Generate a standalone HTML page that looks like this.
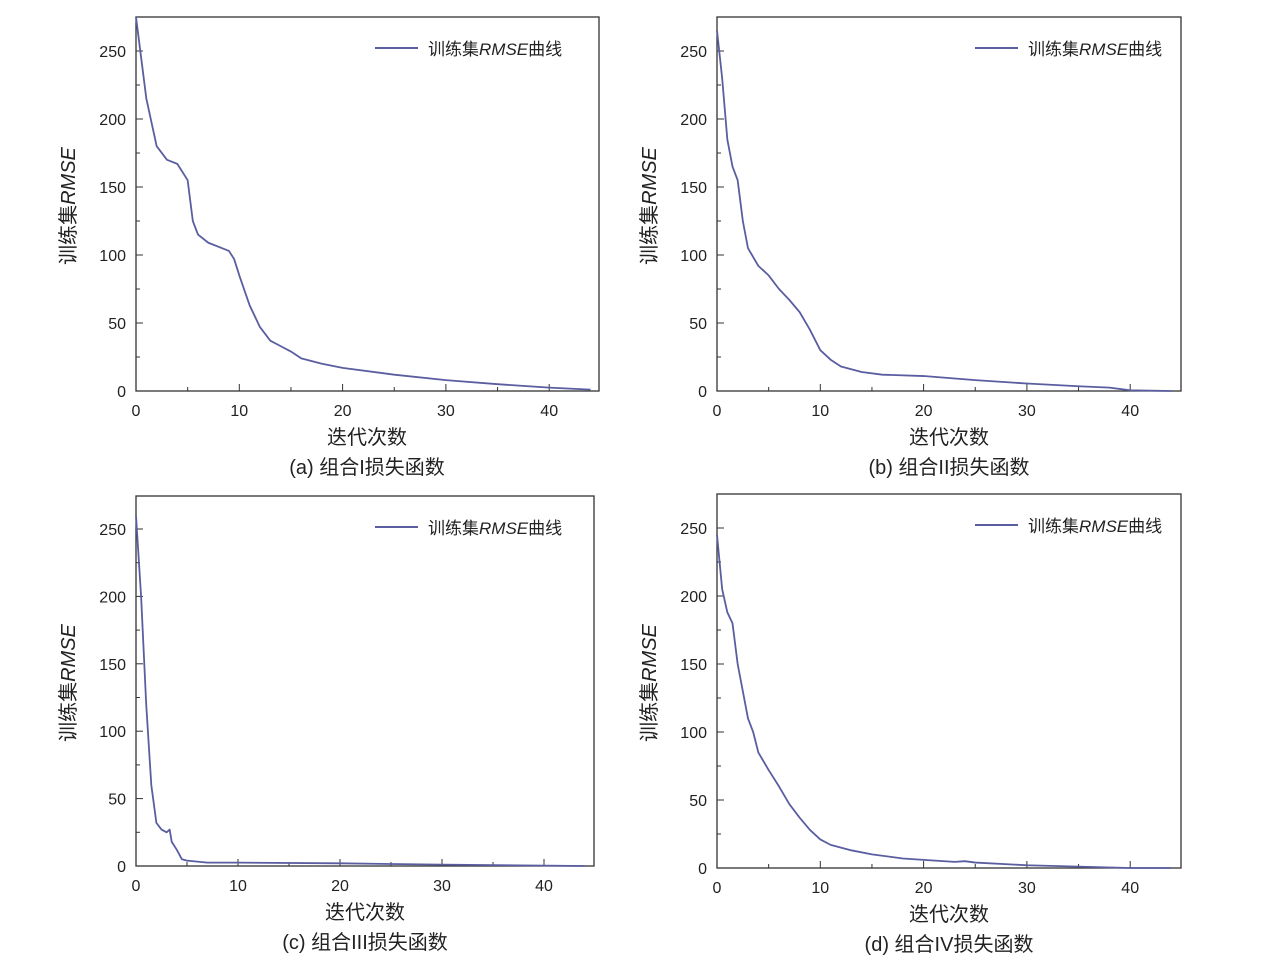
<!DOCTYPE html>
<html><head><meta charset="utf-8"><style>
body{margin:0;background:#fff}
text{font-family:"Liberation Sans","Noto Sans CJK SC",sans-serif;fill:#222}
</style></head><body>
<svg id="s" width="1267" height="965" xmlns="http://www.w3.org/2000/svg"></svg>
<script>
const P=[
{x0:136,x1:599,y0:17,y1:391,xs:10.33,y250:51,cx:367,lg:375,cap:"(a) 组合I损失函数",
d:[[0,275],[1,215],[2,180],[3,170],[4,167],[5,155],[5.5,125],[6,115],[7,109],[8,106],[9,103],[9.5,97],[10,85],[11,63],[12,47],[13,37],[14,33],[15,29],[16,24],[18,20],[20,17],[25,12],[30,8],[35,5],[40,2.5],[44,1]]},
{x0:717,x1:1181,y0:17,y1:391,xs:10.33,y250:51,cx:949,lg:975,cap:"(b) 组合II损失函数",
d:[[0,265],[0.5,230],[1,185],[1.5,165],[2,155],[2.5,125],[3,105],[4,92],[5,85],[6,75],[7,67],[8,58],[9,45],[10,30],[11,23],[12,18],[14,14],[16,12],[20,11],[25,8],[30,5.5],[35,3.5],[38,2.5],[40,0.5],[44,0]]},
{x0:136,x1:594,y0:496,y1:866,xs:10.2,y250:529,cx:365,lg:375,cap:"(c) 组合III损失函数",
d:[[0,260],[0.5,200],[1,120],[1.5,60],[2,32],[2.5,27],[3,25],[3.3,27],[3.5,18],[4,12],[4.5,5],[5,4],[7,2.5],[10,2.5],[20,2],[30,1],[44,0]]},
{x0:717,x1:1181,y0:494,y1:868,xs:10.33,y250:528,cx:949,lg:975,cap:"(d) 组合IV损失函数",
d:[[0,245],[0.5,205],[1,188],[1.5,180],[2,150],[3,110],[3.5,100],[4,85],[5,72],[6,60],[7,47],[8,37],[9,28],[10,21],[11,17],[13,13],[15,10],[18,7],[20,6],[23,4.5],[24,5],[25,4],[30,2],[35,1],[40,0],[44,0]]}];
let h="";
for(const p of P){
 const ys=(p.y1-p.y250)/250, X=v=>p.x0+v*p.xs, Y=v=>p.y1-v*ys;
 h+=`<rect x="${p.x0}" y="${p.y0}" width="${p.x1-p.x0}" height="${p.y1-p.y0}" fill="none" stroke="#333" stroke-width="1.3"/>`;
 for(let v=0;v<=45;v+=5){const x=X(v);if(x>p.x1)break;const L=v%10?4:7;
  h+=`<line x1="${x}" y1="${p.y1}" x2="${x}" y2="${p.y1-L}" stroke="#333"/>`;
  if(v%10==0)h+=`<text x="${x}" y="${p.y1+25}" font-size="16" text-anchor="middle">${v}</text>`;}
 for(let v=0;v<=275;v+=25){const y=Y(v);if(y<p.y0)break;const L=v%50?4:7;
  h+=`<line x1="${p.x0}" y1="${y}" x2="${p.x0+L}" y2="${y}" stroke="#333"/>`;
  if(v%50==0)h+=`<text x="${p.x0-10}" y="${y+6}" font-size="16" text-anchor="end">${v}</text>`;}
 h+=`<polyline fill="none" stroke="#5a5ea0" stroke-width="1.8" stroke-linejoin="round" points="${p.d.map(a=>X(a[0])+","+Y(a[1])).join(" ")}"/>`;
 h+=`<line x1="${p.lg}" y1="${p.y0+31}" x2="${p.lg+43}" y2="${p.y0+31}" stroke="#5a5ea0" stroke-width="2"/>`;
 h+=`<text x="${p.lg+53}" y="${p.y0+38}" font-size="17">训练集<tspan font-style="italic">RMSE</tspan>曲线</text>`;
 const my=(p.y0+p.y1)/2;
 h+=`<text transform="translate(${p.x0-61},${my+2}) rotate(-90)" font-size="20" text-anchor="middle">训练集<tspan font-style="italic">RMSE</tspan></text>`;
 h+=`<text x="${p.cx}" y="${p.y1+53}" font-size="20" text-anchor="middle">迭代次数</text>`;
 h+=`<text x="${p.cx}" y="${p.y1+83}" font-size="20" text-anchor="middle">${p.cap}</text>`;
}
document.getElementById("s").innerHTML=h;
</script>
</body></html>
